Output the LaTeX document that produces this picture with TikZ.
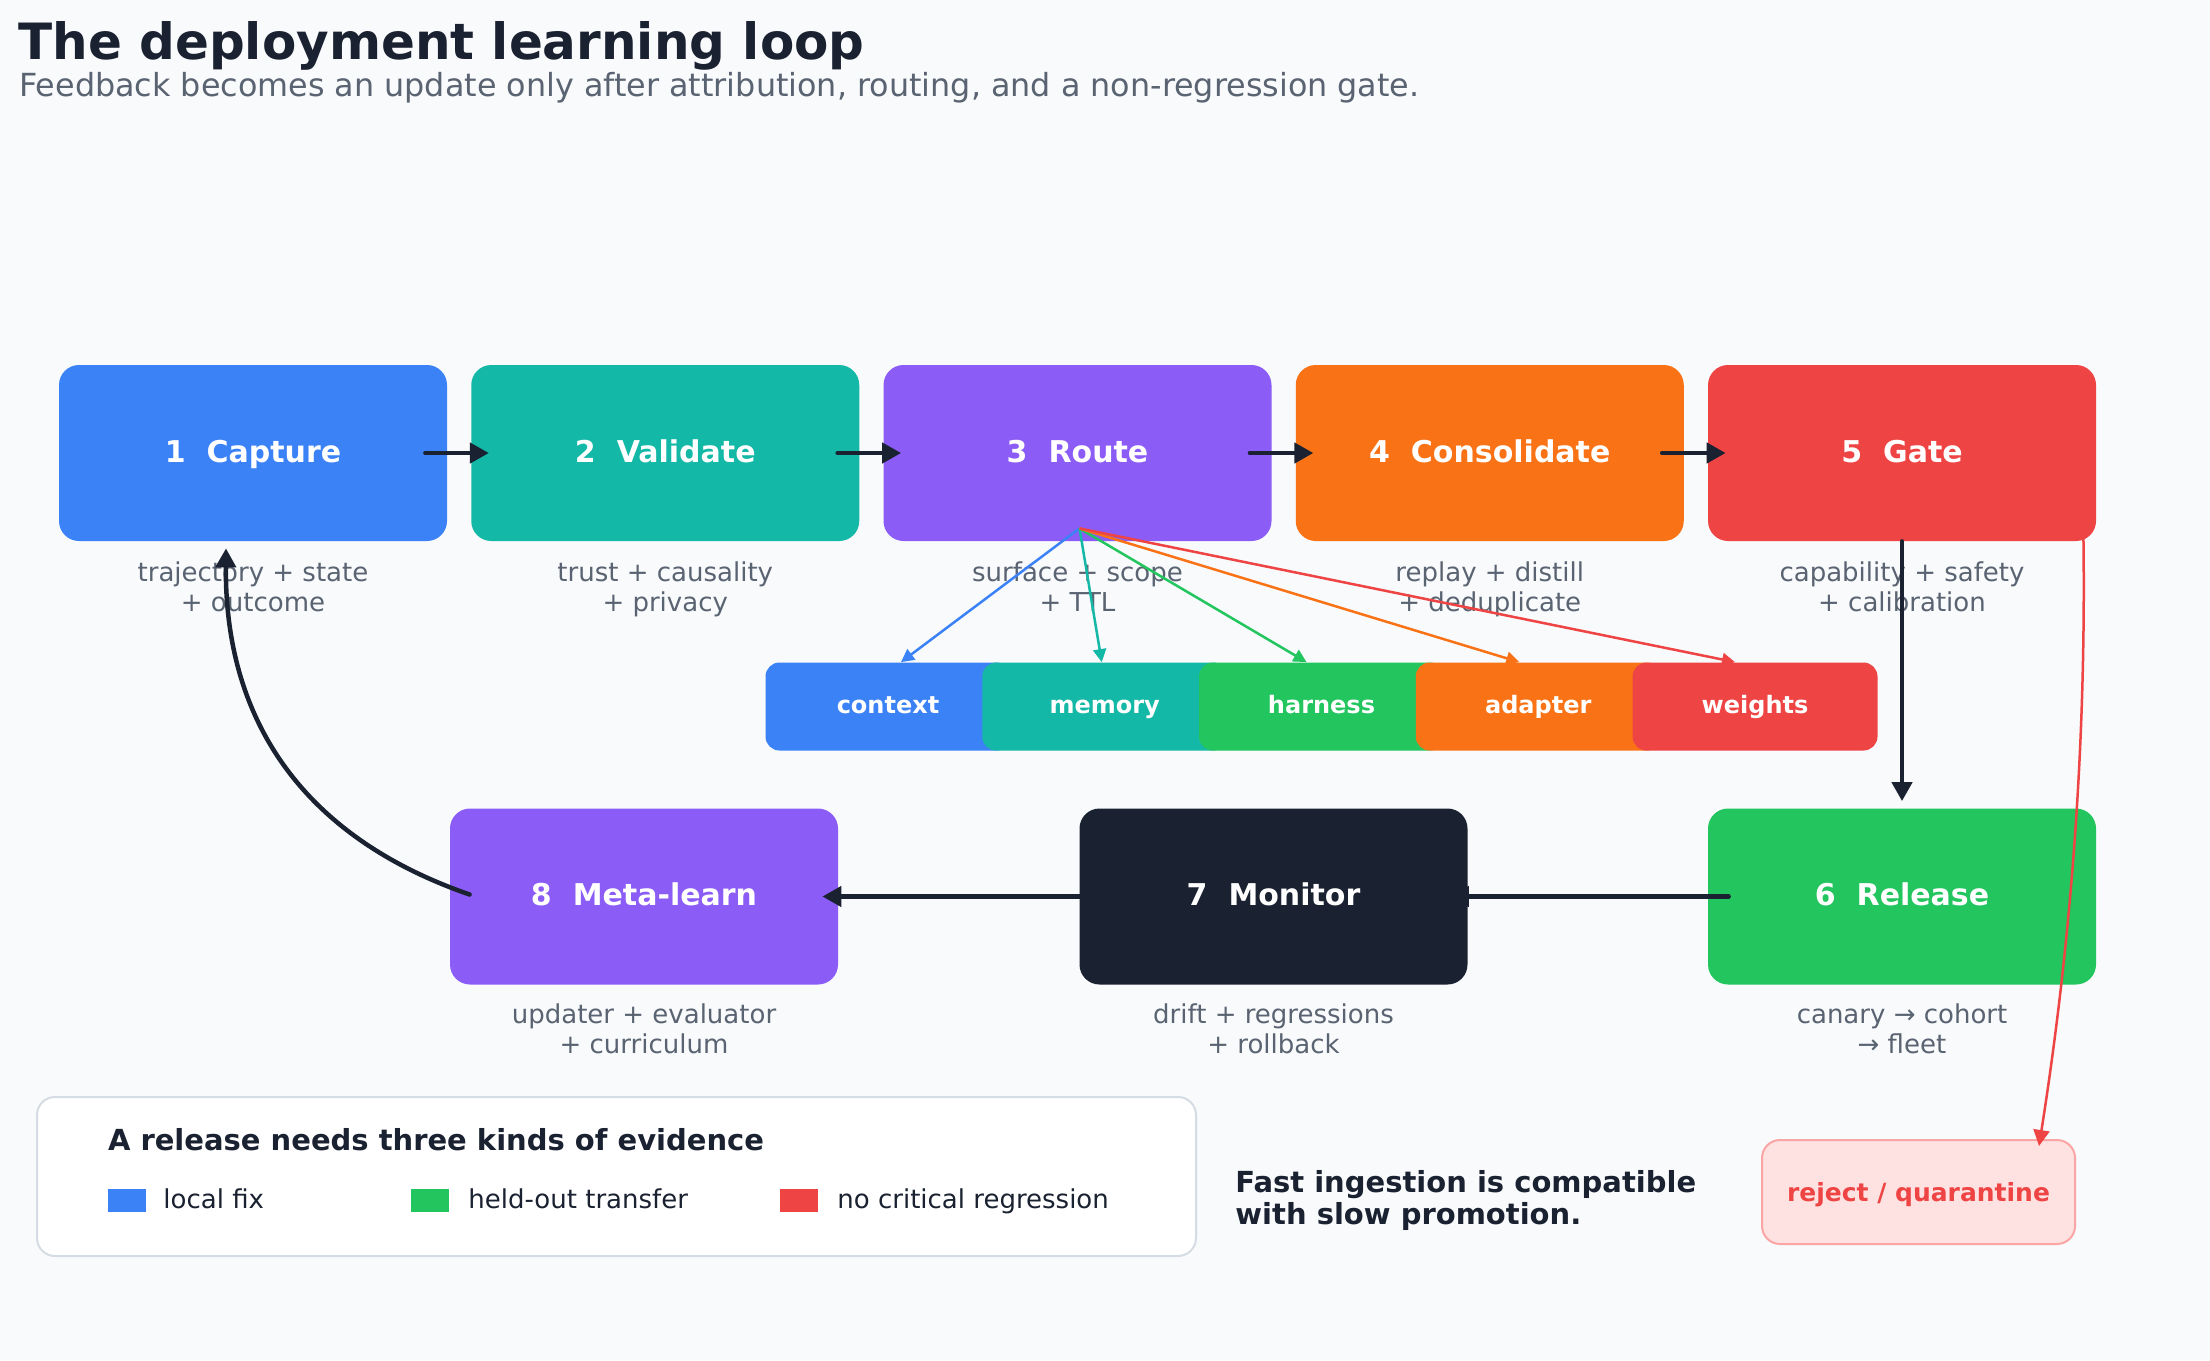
\documentclass[tikz,border=0pt]{standalone}
\usepackage{fontspec}
\setmainfont{DejaVu Sans}
\usetikzlibrary{arrows.meta,calc}

\definecolor{bg}{HTML}{F8FAFC}
\definecolor{ink}{HTML}{1A2130}
\definecolor{muted}{HTML}{5A6371}
\definecolor{cblue}{HTML}{3B82F6}
\definecolor{cteal}{HTML}{14B8A6}
\definecolor{cpurple}{HTML}{8B5CF6}
\definecolor{corange}{HTML}{F97316}
\definecolor{cred}{HTML}{EF4444}
\definecolor{cgreen}{HTML}{22C55E}
\definecolor{legline}{HTML}{D6DCE4}
\definecolor{rejfill}{HTML}{FEE2E2}
\definecolor{rejline}{HTML}{FCA5A5}

% wide gap between the step number and its name
\newcommand\numgap{\hspace{0.7em}}
% two-line caption with fixed line pitch
\newcommand\pair[2]{\strut #1\\\strut #2}

\tikzset{
  stage/.style={rounded corners=10pt, minimum width=194pt, minimum height=88pt,
    inner sep=0pt, text=white, text height=11pt, text depth=2pt,
    font=\fontsize{15}{18}\selectfont\bfseries},
  chip/.style={rounded corners=7pt, minimum width=122.5pt, minimum height=44pt,
    inner sep=0pt, text=white, text height=9.5pt, text depth=2.5pt,
    font=\fontsize{12}{14}\selectfont\bfseries},
  caption/.style={text=muted, align=center, inner sep=0pt,
    font=\fontsize{13}{15}\selectfont},
  flow/.style={draw=ink, line width=2.25pt, line cap=round,
    -{Triangle[length=9.5pt,width=10pt]}},
  fan/.style={line width=1.25pt, -{Triangle[length=6.5pt,width=6.5pt]}},
}

\begin{document}
\begin{tikzpicture}[x=0.5pt, y=-0.5pt]
\fill[bg] (0,0) rectangle (2210,1360);
\useasboundingbox (0,0) rectangle (2210,1360);

% heading
\node[anchor=base west, inner sep=0pt, text=ink,
  font=\fontsize{25}{30}\selectfont\bfseries] (title) at (18,59)
  {The deployment learning loop};
\node[anchor=base west, inner sep=0pt, text=muted,
  font=\fontsize{15.9}{19}\selectfont] (subtitle) at (19,96)
  {Feedback becomes an update only after attribution, routing, and a non-regression gate.};

% pipeline stages, top row
\node[stage, fill=cblue]   (capture)  at (253,453)    {1\numgap Capture};
\node[stage, fill=cteal]   (validate) at (665.25,453) {2\numgap Validate};
\node[stage, fill=cpurple] (route)    at (1077.5,453) {3\numgap Route};
\node[stage, fill=corange] (consol)   at (1489.75,453){4\numgap Consolidate};
\node[stage, fill=cred]    (gate)     at (1902,453)   {5\numgap Gate};

% bottom row
\node[stage, fill=cpurple] (meta)    at (644,896.5)    {8\numgap Meta-learn};
\node[stage, fill=ink]     (monitor) at (1273.5,896.5) {7\numgap Monitor};
\node[stage, fill=cgreen]  (release) at (1902,896.5)   {6\numgap Release};

% captions under the stages
\node[caption] (capC)  at ($(capture.south)+(0,49)$)  {\pair{trajectory + state}{+ outcome}};
\node[caption] (valC)  at ($(validate.south)+(0,49)$) {\pair{trust + causality}{+ privacy}};
\node[caption] (rouC)  at ($(route.south)+(0,49)$)    {\pair{surface + scope}{+ TTL}};
\node[caption] (conC)  at ($(consol.south)+(0,49)$)   {\pair{replay + distill}{+ deduplicate}};
\node[caption] (gatC)  at ($(gate.south)+(0,49)$)     {\pair{capability + safety}{+ calibration}};
\node[caption] (metC)  at ($(meta.south)+(0,47.5)$)   {\pair{updater + evaluator}{+ curriculum}};
\node[caption] (monC)  at ($(monitor.south)+(0,47.5)$){\pair{drift + regressions}{+ rollback}};
\node[caption] (relC)  at ($(release.south)+(0,47.5)$){\pair{canary → cohort}{→ fleet}};

% routing targets
\node[chip, fill=cblue]   (ctx)     at (888,706.5)    {context};
\node[chip, fill=cteal]   (mem)     at (1104.75,706.5){memory};
\node[chip, fill=cgreen]  (harness) at (1321.5,706.5) {harness};
\node[chip, fill=corange] (adapter) at (1538.25,706.5){adapter};
\node[chip, fill=cred]    (weights) at (1755,706.5)   {weights};

% legend panel
\node[draw=legline, line width=1pt, fill=white, rounded corners=9pt,
  minimum width=579.5pt, minimum height=79.5pt, inner sep=0pt] (legend) at (616.5,1176.5) {};
\node[anchor=base west, inner sep=0pt, text=ink,
  font=\fontsize{14.5}{17}\selectfont\bfseries] (legtitle) at (107.6,1150)
  {A release needs three kinds of evidence};
\node[fill=cblue,  minimum width=19pt, minimum height=11.5pt, inner sep=0pt] (swA) at (126.75,1200) {};
\node[fill=cgreen, minimum width=19pt, minimum height=11.5pt, inner sep=0pt] (swB) at (430,1200) {};
\node[fill=cred,   minimum width=19pt, minimum height=11.5pt, inner sep=0pt] (swC) at (799,1200) {};
\node[anchor=base west, inner sep=0pt, text=ink, font=\fontsize{13}{15}\selectfont] (legA) at (163,1208.5) {local fix};
\node[anchor=base west, inner sep=0pt, text=ink, font=\fontsize{13}{15}\selectfont] (legB) at (468,1208.5) {held-out transfer};
\node[anchor=base west, inner sep=0pt, text=ink, font=\fontsize{13}{15}\selectfont] (legC) at (837,1208.5) {no critical regression};

% side note and rejection sink
\node[anchor=north west, align=left, inner sep=0pt, text=ink,
  font=\fontsize{14.5}{16}\selectfont\bfseries] (motto) at (1235,1169.6)
  {\strut Fast ingestion is compatible\\\strut with slow promotion.};
\node[draw=rejline, fill=rejfill, line width=1pt, rounded corners=9pt,
  minimum width=156.5pt, minimum height=52pt, inner sep=0pt, text=cred,
  text height=10pt, text depth=1pt,
  font=\fontsize{12.5}{15}\selectfont\bfseries] (reject) at (1918.5,1192) {reject / quarantine};

% main loop
\draw[flow, shorten <=-11pt, shorten >=-9pt] (capture.east) -- (validate.west);
\draw[flow, shorten <=-11pt, shorten >=-9pt] (validate.east) -- (route.west);
\draw[flow, shorten <=-11pt, shorten >=-9pt] (route.east) -- (consol.west);
\draw[flow, shorten <=-11pt, shorten >=-9pt] (consol.east) -- (gate.west);
\draw[flow, shorten >=3.5pt] (gate.south) -- (release.north);
\draw[flow, shorten <=-10.5pt, shorten >=-9pt] (release.west) -- (monitor.east);
\draw[flow, shorten <=-10.5pt, shorten >=-8pt] (monitor.west) -- (meta.east);
\draw[flow] ($(meta.west)+(20,-2)$) .. controls +(-164.7,-57) and +(-1.4,174.1) .. ($(capture.south)+(-27,7)$);

% routing fan-out
\coordinate (rs) at ($(route.south)+(2,-13)$);
\draw[fan, cblue]   (rs) -- ($(ctx.north)+(13,0)$);
\draw[fan, cteal]   (rs) -- ($(mem.north)+(-3,0)$);
\draw[fan, cgreen]  (rs) -- ($(harness.north)+(-15,0)$);
\draw[fan, corange] (rs) -- ($(adapter.north)+(-19,0)$);
\draw[fan, cred]    (rs) -- ($(weights.north)+(-20,0)$);

% failed gate goes to quarantine
\draw[cred, line width=1.25pt, -{Triangle[length=8pt,width=8pt]}]
  ($(gate.south east)+(-13,-5)$) .. controls +(3,214) and +(31,-197) .. ($(reject.north)+(120.5,7)$);
\end{tikzpicture}
\end{document}
